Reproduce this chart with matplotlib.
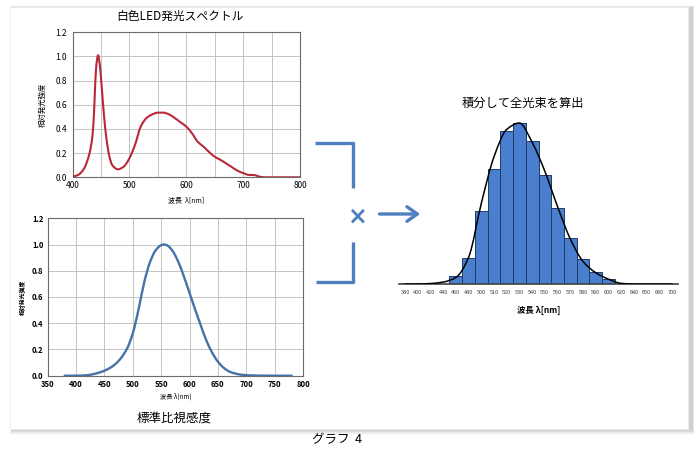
"""White LED spectrum x luminosity function -> integrated luminous flux."""

import matplotlib

matplotlib.use("Agg")

import matplotlib.pyplot as plt
import numpy as np
from matplotlib.patches import FancyArrowPatch, PathPatch, Rectangle
from matplotlib.path import Path

plt.rcParams["font.family"] = ["Noto Sans CJK JP", "DejaVu Sans"]

W, H = 699, 463

# --- data -----------------------------------------------------------------
led_wavelength = [400, 410, 420, 430, 435, 438, 440, 442, 445, 448, 450, 455,
                  460, 465, 470, 480, 490, 500, 510, 520, 530, 540, 550, 560,
                  570, 580, 590, 600, 610, 620, 630, 640, 650, 660, 670, 680,
                  690, 700, 710, 720, 730, 740, 800]
led_intensity = [0.005, 0.02, 0.07, 0.20, 0.34, 0.55, 0.78, 0.93, 1.01, 0.93,
                 0.83, 0.53, 0.31, 0.17, 0.10, 0.066, 0.088, 0.157, 0.27,
                 0.42, 0.49, 0.52, 0.535, 0.535, 0.52, 0.49, 0.455, 0.42,
                 0.365, 0.295, 0.255, 0.21, 0.17, 0.145, 0.115, 0.085, 0.055,
                 0.035, 0.02, 0.018, 0.004, 0.0, 0.0]

vlambda_wavelength = [380, 390, 400, 410, 420, 430, 440, 450, 460, 470, 480,
                      490, 500, 510, 520, 530, 540, 550, 555, 560, 570, 580,
                      590, 600, 610, 620, 630, 640, 650, 660, 670, 680, 690,
                      700, 710, 720, 730, 740, 750, 760, 770, 780]
vlambda_value = [0.00004, 0.00012, 0.0004, 0.0012, 0.004, 0.0116, 0.023,
                 0.038, 0.06, 0.091, 0.139, 0.208, 0.323, 0.503, 0.71, 0.862,
                 0.954, 0.995, 1.0, 0.995, 0.952, 0.87, 0.757, 0.631, 0.503,
                 0.381, 0.265, 0.175, 0.107, 0.061, 0.032, 0.017, 0.0082,
                 0.0041, 0.0021, 0.00105, 0.00052, 0.00025, 0.00012, 0.00006,
                 0.00003, 0.000015]

bin_labels = ["380", "400", "420", "440", "460", "480", "500", "510", "520",
              "530", "540", "550", "560", "570", "580", "590", "600", "620",
              "640", "660", "680", "700"]
bin_heights = [0, 0, 0, 0, 0.05, 0.16, 0.455, 0.717, 0.948, 1.0, 0.886,
               0.68, 0.469, 0.283, 0.153, 0.072, 0.029, 0, 0, 0, 0, 0]
curve_values = [0, 0, 0.003, 0.012, 0.04, 0.165, 0.50, 0.79, 0.96, 1.0, 0.88,
                0.70, 0.48, 0.28, 0.14, 0.07, 0.03, 0.004, 0, 0, 0, 0]


def px_rect(x0, y0, x1, y1):
    """Pixel box (top-left origin) -> figure fraction rect."""
    return [x0 / W, 1 - y1 / H, (x1 - x0) / W, (y1 - y0) / H]


def px(x, y):
    return x / W, 1 - y / H


def smooth_path(x, y):
    """Monotone cubic (Fritsch-Carlson) Bezier path through the points."""
    x = np.asarray(x, float)
    y = np.asarray(y, float)
    h = np.diff(x)
    d = np.diff(y) / h
    m = np.zeros_like(y)
    m[0], m[-1] = d[0], d[-1]
    for k in range(1, len(y) - 1):
        if d[k - 1] * d[k] <= 0:
            m[k] = 0.0
        else:
            w1 = 2 * h[k] + h[k - 1]
            w2 = h[k] + 2 * h[k - 1]
            m[k] = (w1 + w2) / (w1 / d[k - 1] + w2 / d[k])
    verts = [(x[0], y[0])]
    codes = [Path.MOVETO]
    for k in range(len(h)):
        verts += [(x[k] + h[k] / 3, y[k] + m[k] * h[k] / 3),
                  (x[k + 1] - h[k] / 3, y[k + 1] - m[k + 1] * h[k] / 3),
                  (x[k + 1], y[k + 1])]
        codes += [Path.CURVE4] * 3
    return Path(verts, codes)


def draw_curve(ax, x, y, color, lw, zorder=3):
    ax.add_patch(PathPatch(smooth_path(x, y), facecolor="none",
                           edgecolor=color, linewidth=lw, zorder=zorder,
                           capstyle="round", joinstyle="round"))


fig = plt.figure(figsize=(W / 100, H / 100), dpi=100)
fig.patch.set_facecolor("white")

# panel with soft shadow (kept below the axes)
for i, a in enumerate([0.02, 0.03, 0.04, 0.05, 0.06]):
    grow = 5 - i
    fig.patches.append(Rectangle(
        px(10 - grow * 0.5 + 2, 429 + grow + 1), (680 + grow * 1.0) / W,
        (422 + grow * 1.6) / H, transform=fig.transFigure,
        facecolor="black", alpha=a, edgecolor="none", zorder=-3))
fig.patches.append(Rectangle(px(10, 429), 678 / W, 422 / H,
                             transform=fig.transFigure, facecolor="white",
                             edgecolor="#ececec", linewidth=0.5, zorder=-2))

grid_kw = dict(color="#c4c4c4", linewidth=0.7)

# --- top-left: LED spectrum ---------------------------------------------
ax1 = fig.add_axes(px_rect(72.5, 32.3, 300, 177.3))
draw_curve(ax1, led_wavelength, led_intensity, "#b8283a", 1.5)
ax1.set_xlim(400, 800)
ax1.set_ylim(0, 1.2)
ax1.set_xticks([400, 500, 600, 700, 800])
ax1.set_xticks(np.arange(450, 800, 100), minor=True)
ax1.set_yticks(np.arange(0, 1.21, 0.2))
ax1.yaxis.set_major_formatter(matplotlib.ticker.FormatStrFormatter("%.1f"))
ax1.grid(True, which="both", **grid_kw)
ax1.tick_params(axis="x", length=0, which="both", labelsize=6, pad=3)
ax1.tick_params(axis="y", length=0, labelsize=6, pad=4)
for s in ax1.spines.values():
    s.set_color("#6b6b6b")
ax1.set_xlabel("波長  λ[nm]", fontsize=5, labelpad=4)
ax1.set_ylabel("相対発光強度", fontsize=5.3, labelpad=6)
fig.text(*px(180, 16), "白色LED発光スペクトル", fontsize=8.5,
         ha="center", va="center")

# --- bottom-left: luminosity function ------------------------------------
ax2 = fig.add_axes(px_rect(47.7, 218.3, 303, 375.7))
draw_curve(ax2, vlambda_wavelength, vlambda_value, "#4672a8", 1.7)
ax2.set_xlim(350, 800)
ax2.set_ylim(0, 1.2)
ax2.set_xticks(np.arange(350, 801, 50))
ax2.set_yticks(np.arange(0, 1.21, 0.2))
ax2.yaxis.set_major_formatter(matplotlib.ticker.FormatStrFormatter("%.1f"))
ax2.grid(True, **grid_kw)
ax2.tick_params(length=0, labelsize=5.5, pad=3)
for lab in ax2.get_xticklabels() + ax2.get_yticklabels():
    lab.set_fontweight("bold")
for s in ax2.spines.values():
    s.set_color("#6b6b6b")
ax2.set_xlabel("波長 λ(nm)", fontsize=4.5, labelpad=3)
ax2.set_ylabel("相対発光強度", fontsize=4.2, fontweight="bold", labelpad=4)
fig.text(*px(174, 418), "標準比視感度", fontsize=9, ha="center", va="center")

# --- right: integrated bins ---------------------------------------------
ax3 = fig.add_axes(px_rect(398.6, 110, 678.4, 284))
pos = np.arange(len(bin_labels))
ax3.bar(pos, bin_heights, width=1.0, color="#4a7fd0", edgecolor="#1d3b66",
        linewidth=0.7, zorder=2)
draw_curve(ax3, pos, curve_values, "black", 1.1)
ax3.set_xlim(-0.5, 21.5)
ax3.set_ylim(0, 174 / 161)
ax3.set_xticks(pos, bin_labels)
ax3.set_yticks([])
ax3.tick_params(length=0, labelsize=4, pad=4, labelcolor="#404040")
for name in ["top", "left", "right"]:
    ax3.spines[name].set_visible(False)
ax3.spines["bottom"].set_color("#404040")
ax3.spines["bottom"].set_linewidth(1.2)
ax3.set_xlabel("波長 λ[nm]", fontsize=6, fontweight="bold", labelpad=8)
fig.text(*px(522.5, 103), "積分して全光束を算出", fontsize=8.8,
         ha="center", va="center")

# --- brackets, cross and arrow ------------------------------------------
blue = "#4f7fbf"
line_kw = dict(color=blue, linewidth=2.4, transform=fig.transFigure,
               solid_capstyle="butt")
fig.lines.append(plt.Line2D(*zip(px(315, 142.7), px(353, 142.7),
                                 px(353, 188)), **line_kw))
fig.lines.append(plt.Line2D(*zip(px(353, 241.7), px(353, 281.7),
                                 px(316, 281.7)), **line_kw))
fig.text(*px(356.5, 216.5), "×", fontsize=17, color=blue, ha="center",
         va="center", fontweight="bold", family="DejaVu Sans")
fig.patches.append(FancyArrowPatch(
    px(376.7, 214), px(423, 214), transform=fig.transFigure,
    arrowstyle="->,head_length=5,head_width=3.5", color=blue, linewidth=2.4,
    mutation_scale=1.5))

fig.text(*px(337, 440), "グラフ  4", fontsize=9, ha="center", va="center")

fig.savefig("out.png", dpi=100)
